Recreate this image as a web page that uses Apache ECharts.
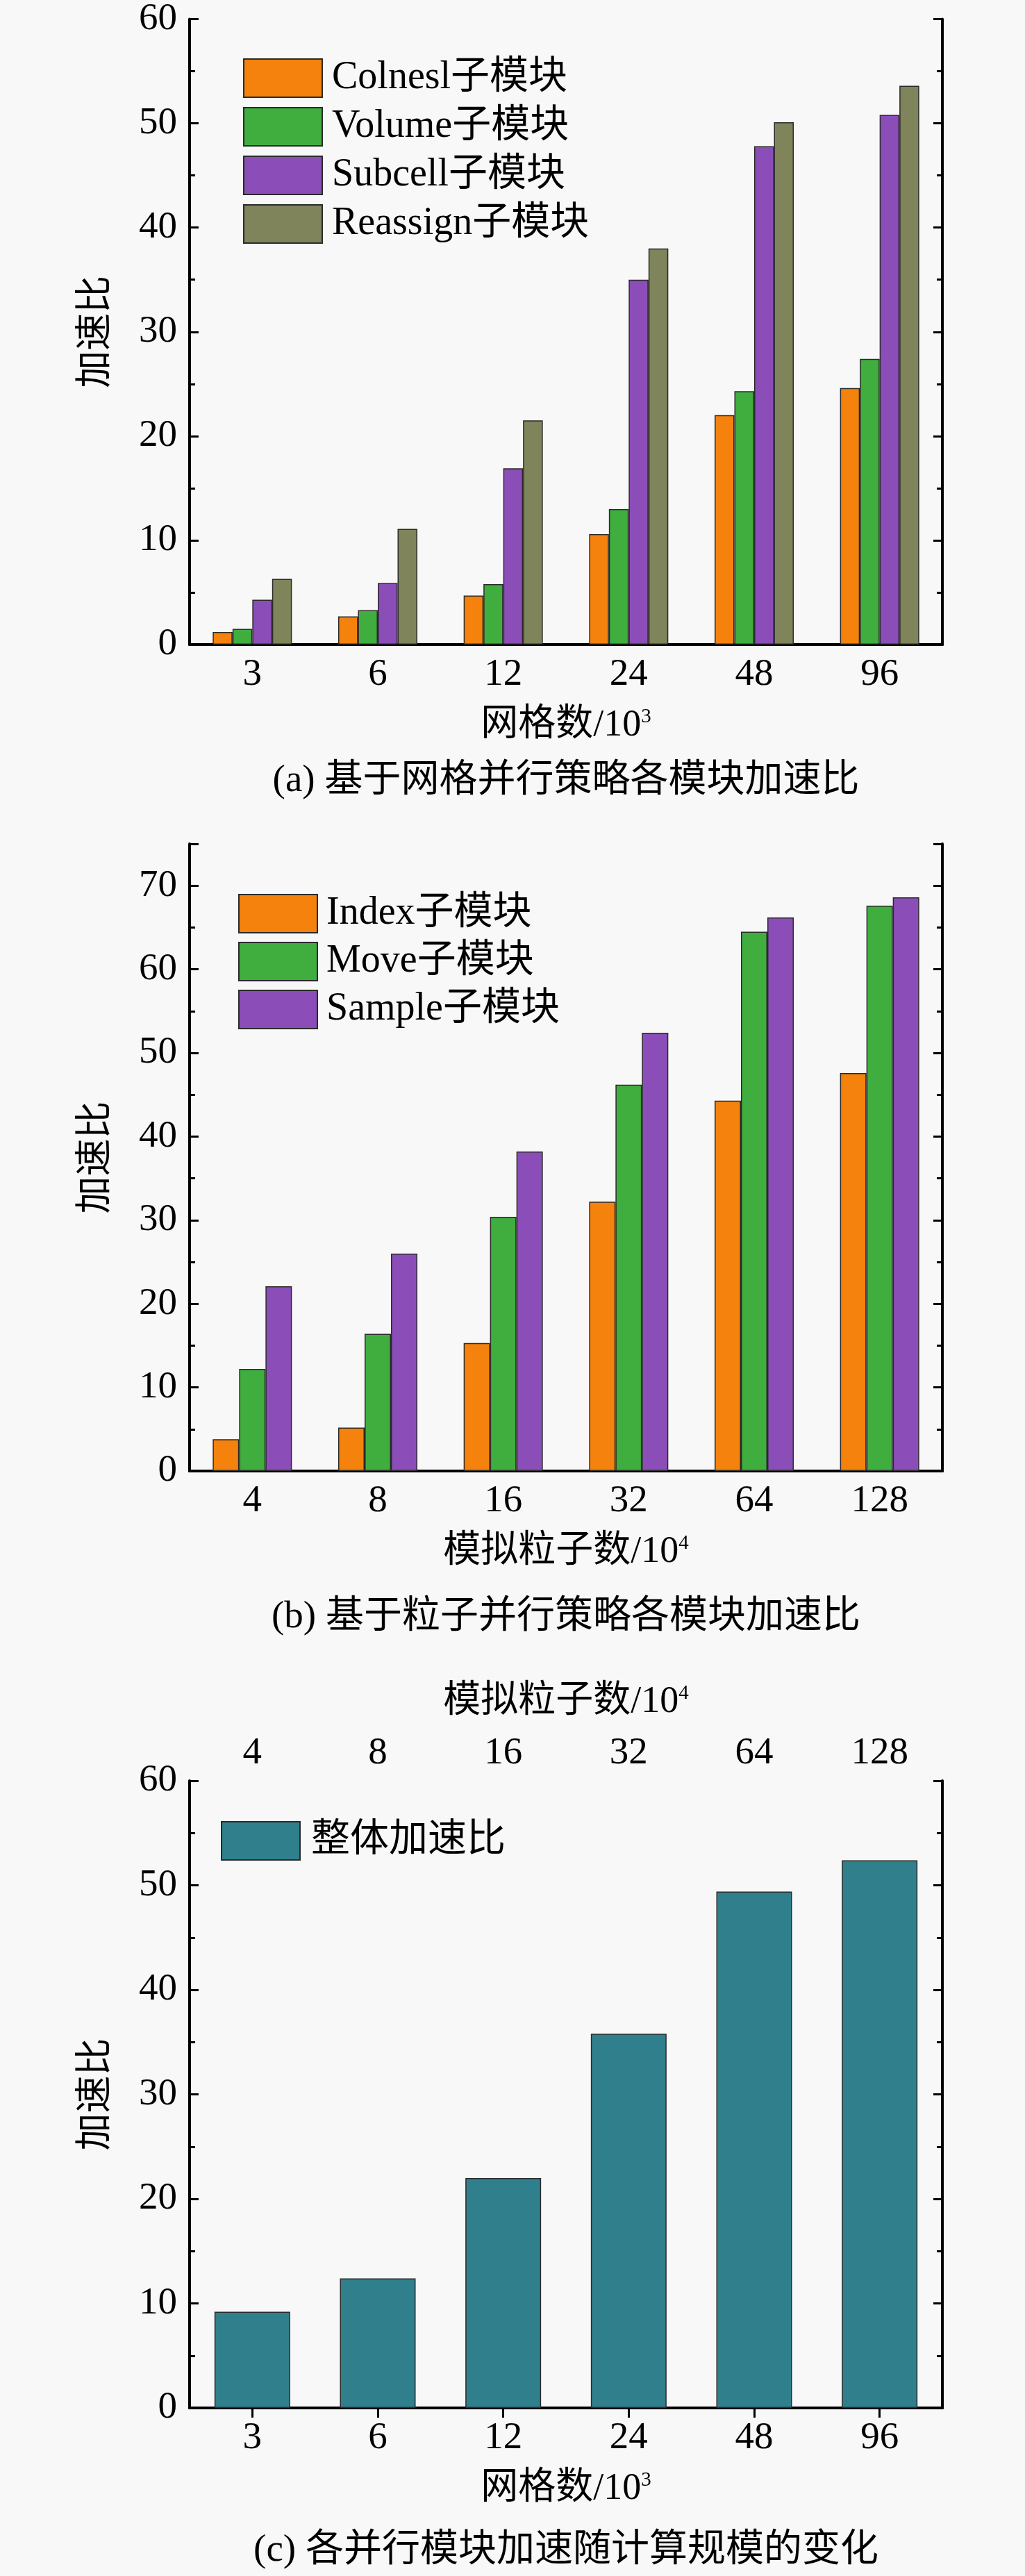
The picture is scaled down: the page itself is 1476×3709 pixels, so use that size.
<!DOCTYPE html>
<html>
<head>
<meta charset="utf-8">
<script src="https://cdn.jsdelivr.net/npm/echarts@6/dist/echarts.min.js"></script>
<style>
  html, body { margin: 0; padding: 0; background: #f8f8f8; }
  #main { width: 1476px; height: 3709px; }
</style>
</head>
<body>
<div id="main"></div>
<script>
// categories
const gridCats = ['3', '6', '12', '24', '48', '96'];          // 网格数/10^3
const particleCats = ['4', '8', '16', '32', '64', '128'];     // 模拟粒子数/10^4

// (a) grid parallel strategy
const colneslSpeedup   = [1.2, 2.7, 4.7, 10.6, 22.0, 24.6];
const volumeSpeedup    = [1.5, 3.3, 5.8, 13.0, 24.3, 27.4];
const subcellSpeedup   = [4.3, 5.9, 16.9, 35.0, 47.8, 50.8];
const reassignSpeedup  = [6.3, 11.1, 21.5, 38.0, 50.1, 53.6];

// (b) particle parallel strategy
const indexSpeedup  = [3.8, 5.2, 15.3, 32.2, 44.3, 47.6];
const moveSpeedup   = [12.2, 16.4, 30.4, 46.2, 64.5, 67.6];
const sampleSpeedup = [22.1, 26.0, 38.2, 52.4, 66.2, 68.6];

// (c) overall
const overallSpeedup = [9.2, 12.4, 22.0, 35.8, 49.4, 52.4];

const FONT = "'Liberation Serif', 'Noto Sans CJK SC', serif";
const FS = 55;
const colors = {
    orange: '#f5820c',
    green: '#3fae3f',
    purple: '#8b4eb8',
    olive: '#7f845a',
    teal: '#2f808c'
};

let myChart = echarts.init(document.getElementById('main'));

const gridTops = [25, 1215, 2564];
const plotH = 903;
const plotL = 273, plotR = 119;

const supRich = { sup: { fontFamily: FONT, fontSize: 29, verticalAlign: 'top', padding: [0, 0, 22, 0], color: '#000' } };

function bottomX(gi, cats, name) {
    return {
        type: 'category', gridIndex: gi, position: 'bottom', data: cats,
        axisLine: { lineStyle: { color: '#000', width: 4 } },
        axisTick: { show: false },
        axisLabel: { color: '#000', fontFamily: FONT, fontSize: FS, margin: 16 },
        name: name, nameLocation: 'middle', nameGap: 90,
        nameTextStyle: { color: '#000', fontFamily: FONT, fontSize: 54, rich: supRich }
    };
}

function topX(gi, cats) {
    return {
        type: 'category', gridIndex: gi, position: 'top', data: cats,
        axisLine: { lineStyle: { color: '#000', width: 4 } },
        axisTick: { show: false },
        axisLabel: { show: false }
    };
}

function leftY(gi, max) {
    return {
        type: 'value', gridIndex: gi, position: 'left', min: 0, max: max, interval: 10,
        axisLine: { show: true, lineStyle: { color: '#000', width: 4 } },
        axisTick: { show: true, inside: true, length: 13, lineStyle: { color: '#000', width: 3 } },
        minorTick: { show: true, splitNumber: 2, length: 8, lineStyle: { color: '#000', width: 3 } },
        splitLine: { show: false },
        axisLabel: { color: '#000', fontFamily: FONT, fontSize: FS, margin: 18, showMaxLabel: max % 10 === 0 },
        name: '加速比', nameLocation: 'middle', nameRotate: 90, nameGap: 106,
        nameTextStyle: { color: '#000', fontFamily: FONT, fontSize: 54 }
    };
}

function rightY(gi, max) {
    return {
        type: 'value', gridIndex: gi, position: 'right', min: 0, max: max, interval: 10,
        axisLine: { show: true, lineStyle: { color: '#000', width: 4 } },
        axisTick: { show: true, inside: true, length: 13, lineStyle: { color: '#000', width: 3 } },
        minorTick: { show: true, splitNumber: 2, length: 8, lineStyle: { color: '#000', width: 3 } },
        splitLine: { show: false },
        axisLabel: { show: false }
    };
}

function barSeries(name, data, color, xi, yi, width) {
    return {
        name: name, type: 'bar', xAxisIndex: xi, yAxisIndex: yi, data: data,
        barWidth: width, barGap: '0%',
        itemStyle: { color: color, borderColor: '#2a2a2a', borderWidth: 1.5 }
    };
}

function legendAt(left, top, names, itemGap, textPad) {
    return {
        orient: 'vertical', left: left, top: top, data: names,
        itemWidth: 113, itemHeight: 55, itemGap: itemGap,
        icon: 'rect', selectedMode: false,
        textStyle: { color: '#000', fontFamily: FONT, fontSize: 56, lineHeight: 55, padding: [0, 0, 0, textPad] }
    };
}

// top axis of (c) carries the particle counts
let topXc = {
    type: 'category', gridIndex: 2, position: 'top', data: particleCats,
    axisLine: { lineStyle: { color: '#000', width: 4 } },
    axisTick: { show: true, inside: true, alignWithLabel: true, length: 14, lineStyle: { color: '#000', width: 3 } },
    axisLabel: { color: '#000', fontFamily: FONT, fontSize: FS, margin: 12 },
    name: '模拟粒子数/10{sup|4}', nameLocation: 'middle', nameGap: 86,
    nameTextStyle: { color: '#000', fontFamily: FONT, fontSize: 54, rich: supRich }
};

let option = {
    backgroundColor: '#f8f8f8',
    animation: false,
    grid: gridTops.map(t => ({ left: plotL, right: plotR, top: t, height: plotH })),
    xAxis: [
        bottomX(0, gridCats, '网格数/10{sup|3}'),
        topX(0, gridCats),
        bottomX(1, particleCats, '模拟粒子数/10{sup|4}'),
        topX(1, particleCats),
        bottomX(2, gridCats, '网格数/10{sup|3}'),
        topXc
    ],
    yAxis: [
        leftY(0, 60), rightY(0, 60),
        leftY(1, 75), rightY(1, 75),
        leftY(2, 60), rightY(2, 60)
    ],
    legend: [
        legendAt(345, 79, ['Colnesl子模块', 'Volume子模块', 'Subcell子模块', 'Reassign子模块'], 13, 9),
        legendAt(338, 1282, ['Index子模块', 'Move子模块', 'Sample子模块'], 12, 8),
        legendAt(313, 2617, ['整体加速比'], 12, 11)
    ],
    series: [
        barSeries('Colnesl子模块', colneslSpeedup, colors.orange, 0, 0, 28.5),
        barSeries('Volume子模块', volumeSpeedup, colors.green, 0, 0, 28.5),
        barSeries('Subcell子模块', subcellSpeedup, colors.purple, 0, 0, 28.5),
        barSeries('Reassign子模块', reassignSpeedup, colors.olive, 0, 0, 28.5),
        barSeries('Index子模块', indexSpeedup, colors.orange, 2, 2, 38),
        barSeries('Move子模块', moveSpeedup, colors.green, 2, 2, 38),
        barSeries('Sample子模块', sampleSpeedup, colors.purple, 2, 2, 38),
        barSeries('整体加速比', overallSpeedup, colors.teal, 4, 4, 109)
    ],
    graphic: [
        { type: 'text', x: 815, y: 1125, style: { text: '(a) 基于网格并行策略各模块加速比', fill: '#000', font: '55px ' + FONT, textAlign: 'center', textVerticalAlign: 'middle' } },
        { type: 'text', x: 815, y: 2329, style: { text: '(b) 基于粒子并行策略各模块加速比', fill: '#000', font: '55px ' + FONT, textAlign: 'center', textVerticalAlign: 'middle' } },
        { type: 'text', x: 815, y: 3673, style: { text: '(c) 各并行模块加速随计算规模的变化', fill: '#000', font: '55px ' + FONT, textAlign: 'center', textVerticalAlign: 'middle' } }
    ]
};
myChart.setOption(option);
</script>
</body>
</html>
